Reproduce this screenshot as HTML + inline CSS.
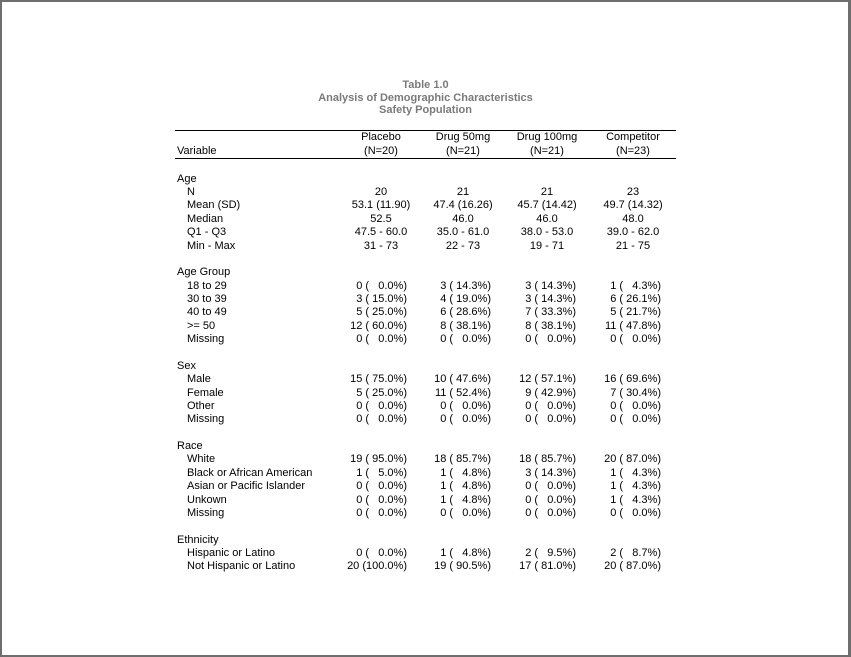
<!DOCTYPE html>
<html><head><meta charset="utf-8"><style>
html,body{margin:0;padding:0;background:#fff}
#f{position:relative;width:851px;height:657px;box-sizing:border-box;border:2px solid #6e6e6e;border-right-width:3px;overflow:hidden;font-family:"Liberation Sans",Arial,sans-serif;font-size:11px;color:#000}
#w{position:absolute;left:-2px;top:-2px;width:851px;height:657px}
.a{position:absolute;line-height:14px;white-space:pre}
.t{left:0;width:851px;text-align:center;color:#7a7a7a;font-weight:bold}
.c{text-align:center;width:100px}
.r{text-align:right;width:120px}
.hl{position:absolute;left:175px;width:501px;height:1px;background:#000}
</style></head><body><div id="f"><div id="w">
<div class="a t" style="top:78px">Table 1.0</div>
<div class="a t" style="top:91px">Analysis of Demographic Characteristics</div>
<div class="a t" style="top:103px">Safety Population</div>
<div class="hl" style="top:130px"></div>
<div class="hl" style="top:158px"></div>
<div class="a" style="left:177px;top:144px">Variable</div>
<div class="a c" style="left:331px;top:130px">Placebo</div><div class="a c" style="left:331px;top:144px">(N=20)</div>
<div class="a c" style="left:413px;top:130px">Drug 50mg</div><div class="a c" style="left:413px;top:144px">(N=21)</div>
<div class="a c" style="left:497px;top:130px">Drug 100mg</div><div class="a c" style="left:497px;top:144px">(N=21)</div>
<div class="a c" style="left:583px;top:130px">Competitor</div><div class="a c" style="left:583px;top:144px">(N=23)</div>

<div class="a" style="left:177px;top:172px">Age</div>
<div class="a" style="left:187px;top:185px">N</div>
<div class="a c" style="left:331px;top:185px">20</div><div class="a c" style="left:413px;top:185px">21</div><div class="a c" style="left:497px;top:185px">21</div><div class="a c" style="left:583px;top:185px">23</div>
<div class="a" style="left:187px;top:198px">Mean (SD)</div>
<div class="a c" style="left:331px;top:198px">53.1 (11.90)</div><div class="a c" style="left:413px;top:198px">47.4 (16.26)</div><div class="a c" style="left:497px;top:198px">45.7 (14.42)</div><div class="a c" style="left:583px;top:198px">49.7 (14.32)</div>
<div class="a" style="left:187px;top:212px">Median</div>
<div class="a c" style="left:331px;top:212px">52.5</div><div class="a c" style="left:413px;top:212px">46.0</div><div class="a c" style="left:497px;top:212px">46.0</div><div class="a c" style="left:583px;top:212px">48.0</div>
<div class="a" style="left:187px;top:225px">Q1 - Q3</div>
<div class="a c" style="left:331px;top:225px">47.5 - 60.0</div><div class="a c" style="left:413px;top:225px">35.0 - 61.0</div><div class="a c" style="left:497px;top:225px">38.0 - 53.0</div><div class="a c" style="left:583px;top:225px">39.0 - 62.0</div>
<div class="a" style="left:187px;top:239px">Min - Max</div>
<div class="a c" style="left:331px;top:239px">31 - 73</div><div class="a c" style="left:413px;top:239px">22 - 73</div><div class="a c" style="left:497px;top:239px">19 - 71</div><div class="a c" style="left:583px;top:239px">21 - 75</div>

<div class="a" style="left:177px;top:265px">Age Group</div>
<div class="a" style="left:187px;top:279px">18 to 29</div>
<div class="a r" style="left:287px;top:279px">0 (   0.0%)</div><div class="a r" style="left:371px;top:279px">3 ( 14.3%)</div><div class="a r" style="left:456px;top:279px">3 ( 14.3%)</div><div class="a r" style="left:541px;top:279px">1 (   4.3%)</div>
<div class="a" style="left:187px;top:292px">30 to 39</div>
<div class="a r" style="left:287px;top:292px">3 ( 15.0%)</div><div class="a r" style="left:371px;top:292px">4 ( 19.0%)</div><div class="a r" style="left:456px;top:292px">3 ( 14.3%)</div><div class="a r" style="left:541px;top:292px">6 ( 26.1%)</div>
<div class="a" style="left:187px;top:305px">40 to 49</div>
<div class="a r" style="left:287px;top:305px">5 ( 25.0%)</div><div class="a r" style="left:371px;top:305px">6 ( 28.6%)</div><div class="a r" style="left:456px;top:305px">7 ( 33.3%)</div><div class="a r" style="left:541px;top:305px">5 ( 21.7%)</div>
<div class="a" style="left:187px;top:319px">&gt;= 50</div>
<div class="a r" style="left:287px;top:319px">12 ( 60.0%)</div><div class="a r" style="left:371px;top:319px">8 ( 38.1%)</div><div class="a r" style="left:456px;top:319px">8 ( 38.1%)</div><div class="a r" style="left:541px;top:319px">11 ( 47.8%)</div>
<div class="a" style="left:187px;top:332px">Missing</div>
<div class="a r" style="left:287px;top:332px">0 (   0.0%)</div><div class="a r" style="left:371px;top:332px">0 (   0.0%)</div><div class="a r" style="left:456px;top:332px">0 (   0.0%)</div><div class="a r" style="left:541px;top:332px">0 (   0.0%)</div>

<div class="a" style="left:177px;top:359px">Sex</div>
<div class="a" style="left:187px;top:372px">Male</div>
<div class="a r" style="left:287px;top:372px">15 ( 75.0%)</div><div class="a r" style="left:371px;top:372px">10 ( 47.6%)</div><div class="a r" style="left:456px;top:372px">12 ( 57.1%)</div><div class="a r" style="left:541px;top:372px">16 ( 69.6%)</div>
<div class="a" style="left:187px;top:386px">Female</div>
<div class="a r" style="left:287px;top:386px">5 ( 25.0%)</div><div class="a r" style="left:371px;top:386px">11 ( 52.4%)</div><div class="a r" style="left:456px;top:386px">9 ( 42.9%)</div><div class="a r" style="left:541px;top:386px">7 ( 30.4%)</div>
<div class="a" style="left:187px;top:399px">Other</div>
<div class="a r" style="left:287px;top:399px">0 (   0.0%)</div><div class="a r" style="left:371px;top:399px">0 (   0.0%)</div><div class="a r" style="left:456px;top:399px">0 (   0.0%)</div><div class="a r" style="left:541px;top:399px">0 (   0.0%)</div>
<div class="a" style="left:187px;top:412px">Missing</div>
<div class="a r" style="left:287px;top:412px">0 (   0.0%)</div><div class="a r" style="left:371px;top:412px">0 (   0.0%)</div><div class="a r" style="left:456px;top:412px">0 (   0.0%)</div><div class="a r" style="left:541px;top:412px">0 (   0.0%)</div>

<div class="a" style="left:177px;top:439px">Race</div>
<div class="a" style="left:187px;top:452px">White</div>
<div class="a r" style="left:287px;top:452px">19 ( 95.0%)</div><div class="a r" style="left:371px;top:452px">18 ( 85.7%)</div><div class="a r" style="left:456px;top:452px">18 ( 85.7%)</div><div class="a r" style="left:541px;top:452px">20 ( 87.0%)</div>
<div class="a" style="left:187px;top:466px">Black or African American</div>
<div class="a r" style="left:287px;top:466px">1 (   5.0%)</div><div class="a r" style="left:371px;top:466px">1 (   4.8%)</div><div class="a r" style="left:456px;top:466px">3 ( 14.3%)</div><div class="a r" style="left:541px;top:466px">1 (   4.3%)</div>
<div class="a" style="left:187px;top:479px">Asian or Pacific Islander</div>
<div class="a r" style="left:287px;top:479px">0 (   0.0%)</div><div class="a r" style="left:371px;top:479px">1 (   4.8%)</div><div class="a r" style="left:456px;top:479px">0 (   0.0%)</div><div class="a r" style="left:541px;top:479px">1 (   4.3%)</div>
<div class="a" style="left:187px;top:493px">Unkown</div>
<div class="a r" style="left:287px;top:493px">0 (   0.0%)</div><div class="a r" style="left:371px;top:493px">1 (   4.8%)</div><div class="a r" style="left:456px;top:493px">0 (   0.0%)</div><div class="a r" style="left:541px;top:493px">1 (   4.3%)</div>
<div class="a" style="left:187px;top:506px">Missing</div>
<div class="a r" style="left:287px;top:506px">0 (   0.0%)</div><div class="a r" style="left:371px;top:506px">0 (   0.0%)</div><div class="a r" style="left:456px;top:506px">0 (   0.0%)</div><div class="a r" style="left:541px;top:506px">0 (   0.0%)</div>

<div class="a" style="left:177px;top:533px">Ethnicity</div>
<div class="a" style="left:187px;top:546px">Hispanic or Latino</div>
<div class="a r" style="left:287px;top:546px">0 (   0.0%)</div><div class="a r" style="left:371px;top:546px">1 (   4.8%)</div><div class="a r" style="left:456px;top:546px">2 (   9.5%)</div><div class="a r" style="left:541px;top:546px">2 (   8.7%)</div>
<div class="a" style="left:187px;top:559px">Not Hispanic or Latino</div>
<div class="a r" style="left:287px;top:559px">20 (100.0%)</div><div class="a r" style="left:371px;top:559px">19 ( 90.5%)</div><div class="a r" style="left:456px;top:559px">17 ( 81.0%)</div><div class="a r" style="left:541px;top:559px">20 ( 87.0%)</div>
</div></div></body></html>
